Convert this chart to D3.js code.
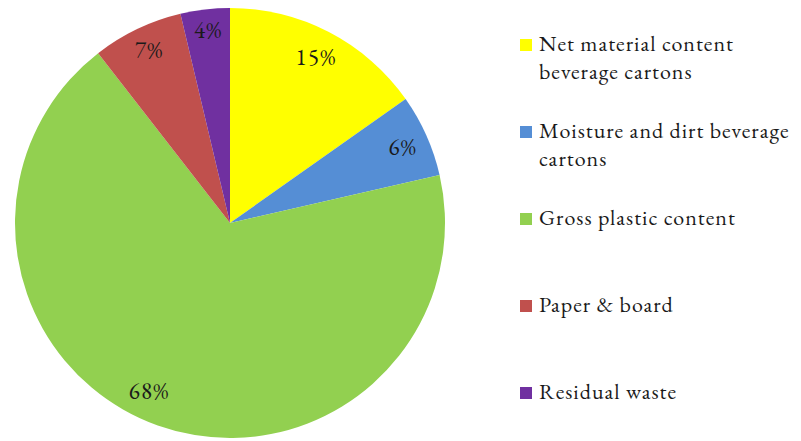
<!DOCTYPE html>
<html>
<head>
<meta charset="utf-8">
<script src="https://cdn.jsdelivr.net/npm/d3@7"></script>
<style>
  html, body { margin: 0; padding: 0; background: #fff; }
  svg { display: block; }
  text { font-family: "EB Garamond", "Liberation Serif", serif; fill: #1a1a1a; }
</style>
</head>
<body>
<svg id="chart" width="801" height="441"></svg>
<script>
const categories = [
  "Net material content\nbeverage cartons",
  "Moisture and dirt beverage\ncartons",
  "Gross plastic content",
  "Paper & board",
  "Residual waste"
];
const values = [15.2, 6.2, 68.0, 6.8, 3.7];
const labels = ["15%", "6%", "68%", "7%", "4%"];
const colors = ["#FFFF00", "#558ED5", "#92D050", "#C0504D", "#7030A0"];

const svg = d3.select("#chart");
const cx = 230, cy = 223, r = 215;

const data = categories.map((c, i) => ({ name: c, value: values[i], label: labels[i], color: colors[i] }));

const pie = d3.pie().value(d => d.value).sort(null);
const arcs = pie(data);
const arc = d3.arc().innerRadius(0).outerRadius(r);
const labelArc = d3.arc().innerRadius(r * 0.87).outerRadius(r * 0.87);

const g = svg.append("g").attr("transform", `translate(${cx},${cy})`);
g.selectAll("path.slice").data(arcs).join("path")
  .attr("class", "slice")
  .attr("d", arc)
  .attr("fill", d => d.data.color);

const nudge = [[0,0],[2,1],[-18,-8],[0,-4],[0,-7]];
g.selectAll("text.lbl").data(arcs).join("text")
  .attr("class", "lbl")
  .attr("transform", (d, i) => {
    const [x, y] = labelArc.centroid(d);
    return `translate(${x + nudge[i][0]},${y + nudge[i][1]})`;
  })
  .attr("text-anchor", "middle")
  .attr("dy", "0.33em")
  .style("font-size", "23px")
  .style("letter-spacing", "1.3px")
  .text(d => d.data.label);

// legend
const legendY = d3.scalePoint().domain(categories).range([45, 393]);
const lg = svg.append("g");
const items = lg.selectAll("g.item").data(data).join("g")
  .attr("class", "item")
  .attr("transform", d => `translate(520,${legendY(d.name)})`);
items.append("rect")
  .attr("x", 0).attr("y", -6).attr("width", 12).attr("height", 12)
  .attr("fill", d => d.color);
items.each(function(d) {
  d3.select(this).selectAll("text").data(d.name.split("\n")).join("text")
    .attr("x", 19)
    .attr("y", (t, i) => 6 + i * 28)
    .style("font-size", "22px")
    .style("letter-spacing", "1px")
    .text(t => t);
});
</script>
</body>
</html>
